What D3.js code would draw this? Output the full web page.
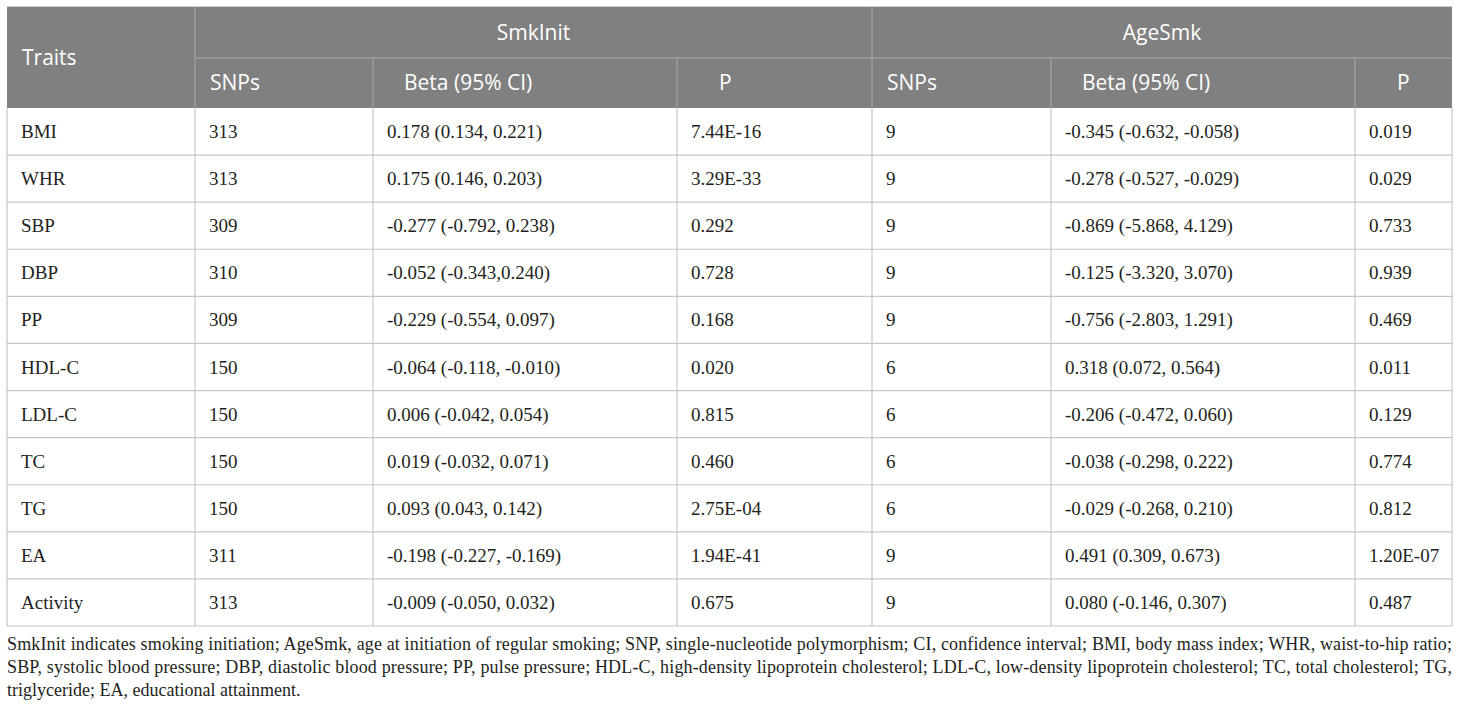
<!DOCTYPE html>
<html>
<head>
<meta charset="utf-8">
<script src="https://cdn.jsdelivr.net/npm/d3@7"></script>
<style>
  body { margin: 0; background: #fff; }
  svg { display: block; }
</style>
</head>
<body>
<svg id="chart"></svg>
<script>
// table values
var traits = ["BMI", "WHR", "SBP", "DBP", "PP", "HDL-C", "LDL-C", "TC", "TG", "EA", "Activity"];
var smkSnps = [313, 313, 309, 310, 309, 150, 150, 150, 150, 311, 313];
var smkBeta = ["0.178 (0.134, 0.221)", "0.175 (0.146, 0.203)", "-0.277 (-0.792, 0.238)", "-0.052 (-0.343,0.240)",
  "-0.229 (-0.554, 0.097)", "-0.064 (-0.118, -0.010)", "0.006 (-0.042, 0.054)", "0.019 (-0.032, 0.071)",
  "0.093 (0.043, 0.142)", "-0.198 (-0.227, -0.169)", "-0.009 (-0.050, 0.032)"];
var smkP = ["7.44E-16", "3.29E-33", "0.292", "0.728", "0.168", "0.020", "0.815", "0.460", "2.75E-04", "1.94E-41", "0.675"];
var ageSnps = [9, 9, 9, 9, 9, 6, 6, 6, 6, 9, 9];
var ageBeta = ["-0.345 (-0.632, -0.058)", "-0.278 (-0.527, -0.029)", "-0.869 (-5.868, 4.129)", "-0.125 (-3.320, 3.070)",
  "-0.756 (-2.803, 1.291)", "0.318 (0.072, 0.564)", "-0.206 (-0.472, 0.060)", "-0.038 (-0.298, 0.222)",
  "-0.029 (-0.268, 0.210)", "0.491 (0.309, 0.673)", "0.080 (-0.146, 0.307)"];
var ageP = ["0.019", "0.029", "0.733", "0.939", "0.469", "0.011", "0.129", "0.774", "0.812", "1.20E-07", "0.487"];

var groups = ["SmkInit", "AgeSmk"];
var subHeads = ["SNPs", "Beta (95% CI)", "P"];
var footLines = [
  "SmkInit indicates smoking initiation; AgeSmk, age at initiation of regular smoking; SNP, single-nucleotide polymorphism; CI, confidence interval; BMI, body mass index; WHR, waist-to-hip ratio;",
  "SBP, systolic blood pressure; DBP, diastolic blood pressure; PP, pulse pressure; HDL-C, high-density lipoprotein cholesterol; LDL-C, low-density lipoprotein cholesterol; TC, total cholesterol; TG,",
  "triglyceride; EA, educational attainment."
];

var W = 1460, H = 710;
var svg = d3.select("#chart").attr("width", W).attr("height", H);

// column edges (layout)
var colKeys = ["trait", "s1", "b1", "p1", "s2", "b2", "p2"];
var edges = [7, 195, 373, 677, 872, 1051, 1355, 1452];
var colX = d3.scaleOrdinal().domain(colKeys).range(edges.slice(0, 7));

var tableTop = 7, head1 = 58, headBottom = 108, tableBottom = 626;
var y = d3.scaleBand().domain(traits).range([headBottom, tableBottom]);

var headBg = "#808080", headLine = "#a9a9a9", bodyLine = "#c6c6c6";
var sansFont = "'Open Sans', 'Noto Sans', sans-serif";
var serifFont = "'Liberation Serif', 'DejaVu Serif', serif";

// header background
svg.append("rect")
  .attr("x", edges[0]).attr("y", tableTop)
  .attr("width", edges[7] - edges[0]).attr("height", headBottom - tableTop)
  .attr("fill", headBg);

var lines = svg.append("g");
// header inner lines
lines.append("line").attr("x1", edges[1]).attr("x2", edges[7]).attr("y1", head1).attr("y2", head1)
  .attr("stroke", headLine).attr("stroke-width", 1);
lines.append("line").attr("x1", edges[1]).attr("x2", edges[1]).attr("y1", tableTop).attr("y2", headBottom)
  .attr("stroke", headLine);
lines.append("line").attr("x1", edges[4]).attr("x2", edges[4]).attr("y1", tableTop).attr("y2", headBottom)
  .attr("stroke", headLine);
[2, 3, 5, 6].forEach(function(i){
  lines.append("line").attr("x1", edges[i]).attr("x2", edges[i]).attr("y1", head1).attr("y2", headBottom)
    .attr("stroke", headLine);
});
// top border
lines.append("line").attr("x1", edges[0]).attr("x2", edges[7]).attr("y1", tableTop - 0.5).attr("y2", tableTop - 0.5)
  .attr("stroke", "#d0d0d0");

// body row lines
lines.selectAll(".hrow").data(traits).enter().append("line")
  .attr("x1", edges[0]).attr("x2", edges[7])
  .attr("y1", function(d){ return y(d) + y.bandwidth(); })
  .attr("y2", function(d){ return y(d) + y.bandwidth(); })
  .attr("stroke", bodyLine).attr("stroke-width", 1.2);
// body column lines
lines.selectAll(".vcol").data(edges).enter().append("line")
  .attr("x1", function(d){ return d; }).attr("x2", function(d){ return d; })
  .attr("y1", headBottom).attr("y2", tableBottom)
  .attr("stroke", bodyLine).attr("stroke-width", 1.2);

// header texts
var ht = svg.append("g").attr("fill", "#fff").style("font-family", sansFont).style("font-size", "21px");
ht.append("text").attr("x", edges[0] + 15).attr("y", (tableTop + headBottom) / 2 + 7).text("Traits");
ht.selectAll(".grp").data(groups).enter().append("text")
  .attr("x", function(d, i){ return i == 0 ? (edges[1] + edges[4]) / 2 : (edges[4] + edges[7]) / 2; })
  .attr("y", (tableTop + head1) / 2 + 7)
  .attr("text-anchor", "middle")
  .text(function(d){ return d; });
var subOffset = [15, 31, 42];
groups.forEach(function(g, gi){
  ht.selectAll(".sub" + gi).data(subHeads).enter().append("text")
    .attr("x", function(d, i){ return colX(colKeys[1 + gi * 3 + i]) + subOffset[i]; })
    .attr("y", (head1 + headBottom) / 2 + 7)
    .text(function(d){ return d; });
});

// body texts
var cols = [traits, smkSnps, smkBeta, smkP, ageSnps, ageBeta, ageP];
var bt = svg.append("g").attr("fill", "#231f20").style("font-family", serifFont).style("font-size", "19px");
cols.forEach(function(vals, ci){
  bt.selectAll(".c" + ci).data(vals).enter().append("text")
    .attr("x", colX(colKeys[ci]) + 14)
    .attr("y", function(d, i){ return y(traits[i]) + y.bandwidth() / 2 + 6.5; })
    .text(function(d){ return d; });
});

// footnote
var fn = svg.append("g").attr("fill", "#231f20").style("font-family", serifFont).style("font-size", "18px");
fn.selectAll("text").data(footLines).enter().append("text")
  .attr("x", edges[0])
  .attr("y", function(d, i){ return tableBottom + 24 + i * 23; })
  .attr("textLength", function(d, i){ return i < 2 ? edges[7] - edges[0] : null; })
  .attr("lengthAdjust", "spacing")
  .text(function(d){ return d; });
</script>
</body>
</html>
